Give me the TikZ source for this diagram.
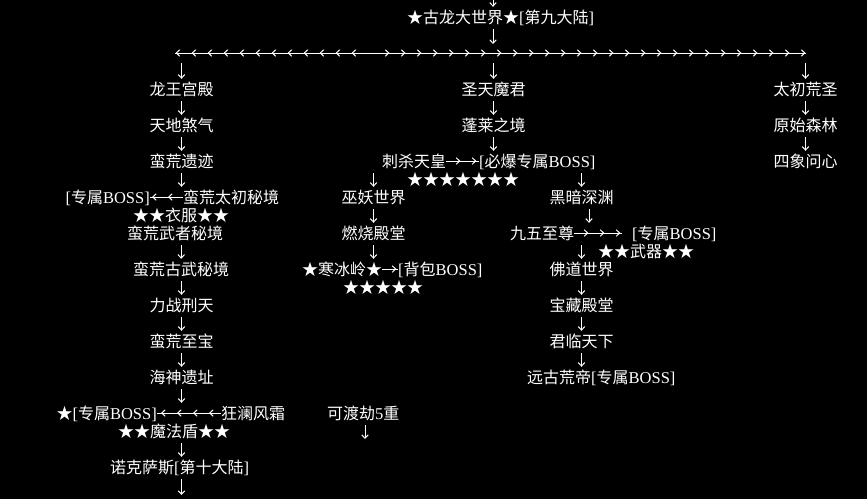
\documentclass[tikz,border=0pt]{standalone}
\usepackage{fontspec}
\newfontfamily\cjk{Noto Sans CJK SC}
\newfontfamily\latserif{Liberation Serif}
\newcommand\asc[1]{{\latserif\fontsize{16.5pt}{16pt}\selectfont #1}}
\usetikzlibrary{arrows.meta,decorations.markings}
\tikzset{
  arrtip/.tip={Straight Barb[length=3.5pt,width=6.5pt]},
  txt/.style={text=white,inner sep=0pt,text height=14pt,text depth=2pt,font=\cjk\fontsize{16pt}{16pt}\selectfont},
  wire/.style={draw=white,line width=1pt},
  down/.style={wire,-{arrtip},shorten <=4pt,shorten >=2pt},
  chain/.style={wire,decoration={markings,mark=between positions #1 and 1 step 16pt with {\arrow{arrtip}}},postaction={decorate}}
}
\begin{document}
\begin{tikzpicture}[x=1pt,y=-1pt]
\fill[black] (0,0) rectangle (867,499);
\useasboundingbox (0,0) rectangle (867,499);

% coordinates
\coordinate (top) at (493,-8);
\coordinate (split) at (367,53);
\coordinate (lend) at (175,53);
\coordinate (rend) at (806,53);
\coordinate (bottom) at (181.5,497);
\coordinate (kedu-end) at (365,441);

% nodes
\node[txt,anchor=west] (gulong) at (407,17) {★古龙大世界★\asc{[}第九大陆\asc{]}};

\node[txt] (longwang) at (181.5,89) {龙王宫殿};
\node[txt] (shengtian) at (493.5,89) {圣天魔君};
\node[txt] (taichu) at (805.5,89) {太初荒圣};

\node[txt] (tiandi) at (181.5,125) {天地煞气};
\node[txt] (penglai) at (493.5,125) {蓬莱之境};
\node[txt] (yuanshi) at (805.5,125) {原始森林};

\node[txt] (manhuangyj) at (181.5,161) {蛮荒遗迹};
\node[txt,anchor=west] (cisha) at (382,161) {刺杀天皇};
\node[txt,anchor=west] (bibao) at (479,161) {\asc{[}必爆专属\asc{BOSS]}};
\node[txt] (sixiang) at (805.5,161) {四象问心};

\node[txt,anchor=west] (stars7) at (407,179) {★★★★★★★};

\node[txt,anchor=east] (boss1) at (150,197) {\asc{[}专属\asc{BOSS]}};
\node[txt,anchor=west] (taichumj) at (183,197) {蛮荒太初秘境};
\node[txt] (wuyao) at (373.5,197) {巫妖世界};
\node[txt] (heian) at (581.5,197) {黑暗深渊};

\node[txt,anchor=west] (yifu) at (133,215) {★★衣服★★};

\node[txt,anchor=west] (wuzhe) at (127,233) {蛮荒武者秘境};
\node[txt] (ranshao) at (373.5,233) {燃烧殿堂};
\node[txt,anchor=west] (jiuwu) at (510,233) {九五至尊};
\node[txt,anchor=west] (boss2) at (632,233) {\asc{[}专属\asc{BOSS]}};

\node[txt,anchor=west] (wuqi) at (598,251) {★★武器★★};

\node[txt,anchor=west] (guwu) at (133,269) {蛮荒古武秘境};
\node[txt,anchor=west] (hanbing) at (302,269) {★寒冰岭★};
\node[txt,anchor=west] (beibao) at (398,269) {\asc{[}背包\asc{BOSS]}};
\node[txt] (fodao) at (581.5,269) {佛道世界};

\node[txt,anchor=west] (stars5) at (343,287) {★★★★★};

\node[txt] (lizhan) at (181.5,305) {力战刑天};
\node[txt] (baozang) at (581.5,305) {宝藏殿堂};

\node[txt] (zhibao) at (181.5,341) {蛮荒至宝};
\node[txt] (junlin) at (581.5,341) {君临天下};

\node[txt] (haishen) at (181.5,377) {海神遗址};
\node[txt,anchor=west] (yuangu) at (527,377) {远古荒帝\asc{[}专属\asc{BOSS]}};

\node[txt,anchor=east] (boss3) at (157,413) {★\asc{[}专属\asc{BOSS]}};
\node[txt,anchor=west] (kuanglan) at (221,413) {狂澜风霜};
\node[txt,anchor=west] (kedu) at (327,413) {可渡劫\asc{5}重};

\node[txt,anchor=west] (mofa) at (118,431) {★★魔法盾★★};

\node[txt,anchor=west] (nuoke) at (110,467) {诺克萨斯\asc{[}第十大陆\asc{]}};

% top column
\draw[down] (top) -- (top |- gulong.north);
\draw[down,shorten >=9pt] (top |- gulong.south) -- (top |- split);
\draw[chain=15.5pt] (split) -- (lend);
\draw[chain=22.5pt] (split) -- (rend);
\draw[down,shorten <=10pt] (longwang |- split) -- (longwang.north);
\draw[down,shorten <=10pt] (shengtian |- split) -- (shengtian.north);
\draw[down,shorten <=10pt] (taichu |- split) -- (taichu.north);

% left column
\draw[down] (longwang.south) -- (tiandi.north);
\draw[down] (tiandi.south) -- (manhuangyj.north);
\draw[down] (manhuangyj.south) -- (manhuangyj.south |- taichumj.north);
\draw[chain=15pt] (taichumj.west) -- (boss1.east);
\draw[down] (guwu |- wuzhe.south) -- (guwu |- guwu.north);
\draw[down] (lizhan |- guwu.south) -- (lizhan.north);
\draw[down] (lizhan.south) -- (zhibao.north);
\draw[down] (zhibao.south) -- (haishen.north);
\draw[down] (haishen.south) -- (haishen.south |- kuanglan.north);
\draw[chain=12pt] (kuanglan.west) -- (boss3.east);
\draw[down] (haishen |- mofa.south) -- (haishen |- nuoke.north);
\draw[down] (haishen |- nuoke.south) -- (bottom);

% middle column
\draw[down] (shengtian.south) -- (penglai.north);
\draw[down] (penglai.south) -- (penglai.south |- bibao.north);
\draw[chain=14pt] (cisha.east) -- (bibao.west);
\draw[down] (wuyao |- cisha.south) -- (wuyao.north);
\draw[down] (wuyao.south) -- (ranshao.north);
\draw[down] (ranshao.south) -- (ranshao.south |- hanbing.north);
\draw[chain=14pt] (hanbing.east) -- (beibao.west);

% right-middle column
\draw[down] (heian |- bibao.south) -- (heian.north);
\draw[down] ([xshift=7.5pt]heian.south) -- ([xshift=7.5pt]heian.south |- jiuwu.north);
\draw[chain=14pt] (jiuwu.east) -- ([xshift=-10pt]boss2.west);
\draw[down] (fodao |- jiuwu.south) -- (fodao.north);
\draw[down] (fodao.south) -- (baozang.north);
\draw[down] (baozang.south) -- (junlin.north);
\draw[down] (junlin.south) -- (junlin.south |- yuangu.north);

% right column
\draw[down] (taichu.south) -- (yuanshi.north);
\draw[down] (yuanshi.south) -- (sixiang.north);

% lone arrow
\draw[down] (kedu-end |- kedu.south) -- (kedu-end);
\end{tikzpicture}
\end{document}
